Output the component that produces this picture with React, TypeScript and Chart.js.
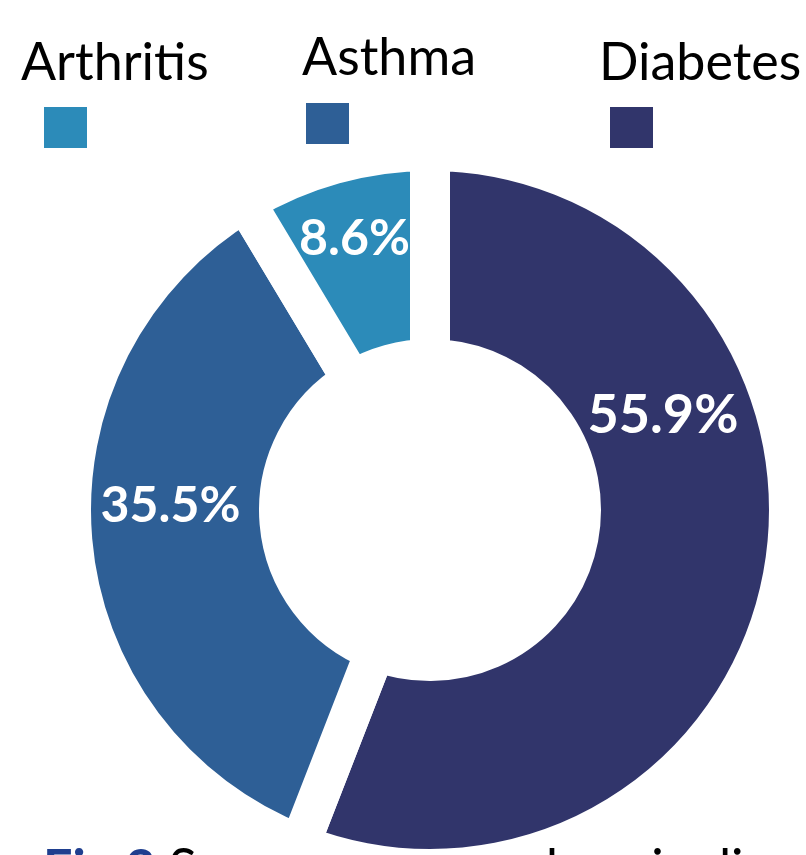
import React, { useEffect, useRef } from "react";
import { Chart, registerables } from "chart.js";

Chart.register(...registerables);

// ---- data ----
const categories = ["Diabetes", "Asthma", "Arthritis"];
const percentages = [55.9, 35.5, 8.6];
const sliceColors = ["#31356B", "#2E5F96", "#2C8BB9"];
const valueLabels = percentages.map((v) => v.toFixed(1) + "%");
const legendOrder = ["Arthritis", "Asthma", "Diabetes"];
const captionLead = "Fig.2";
const captionText = " Some common chronic diseases among respondents";

// ---- styling / layout (not data) ----
const FONT = "Lato, 'Open Sans', sans-serif";
const LABEL_ANGLE_FRAC = [0.336, 0.548, 0.5];
const LABEL_RADIUS_FRAC = [0.485, 0.522, 0.635];
const LABEL_FONT_PX = [54, 50, 50];
const LEGEND_TEXT_POS = [
  { left: 21, top: 34 },
  { left: 302, top: 29 },
  { left: 599, top: 34 },
];
const LEGEND_BOX_POS = [
  { left: 44, top: 107 },
  { left: 306, top: 103 },
  { left: 610, top: 107 },
];
const CANVAS_SIZE = 758;
const CANVAS_LEFT = 51;
const CANVAS_TOP = 131;
const GAP = 40;

const sliceLabelPlugin = {
  id: "sliceLabels",
  afterDatasetsDraw(chart: any) {
    const meta = chart.getDatasetMeta(0);
    const ctx = chart.ctx as CanvasRenderingContext2D;
    ctx.save();
    ctx.fillStyle = "#ffffff";
    ctx.textAlign = "center";
    ctx.textBaseline = "alphabetic";
    meta.data.forEach((arc: any, i: number) => {
      const p = arc.getProps(
        ["x", "y", "startAngle", "endAngle", "innerRadius", "outerRadius"],
        true
      );
      const a = p.startAngle + (p.endAngle - p.startAngle) * LABEL_ANGLE_FRAC[i];
      const r = p.innerRadius + (p.outerRadius - p.innerRadius) * LABEL_RADIUS_FRAC[i];
      const size = LABEL_FONT_PX[i];
      ctx.font = `bold ${size}px ${FONT}`;
      const cx = p.x + Math.cos(a) * r;
      const cy = p.y + Math.sin(a) * r;
      ctx.fillText(valueLabels[i], cx, cy + size * 0.358);
    });
    ctx.restore();
  },
};

export default function App() {
  const canvasRef = useRef<HTMLCanvasElement | null>(null);

  useEffect(() => {
    if (!canvasRef.current) return;
    const chart = new Chart(canvasRef.current, {
      type: "doughnut",
      data: {
        labels: categories,
        datasets: [
          {
            data: percentages,
            backgroundColor: sliceColors,
            borderColor: "#ffffff",
            borderWidth: GAP,
            hoverBorderWidth: GAP,
            offset: 0,
            hoverOffset: 0,
          },
        ],
      },
      options: {
        responsive: false,
        animation: false,
        cutout: "42.06%",
        rotation: 0,
        layout: { padding: 0 },
        events: [],
        plugins: {
          legend: { display: false },
          tooltip: { enabled: false },
        },
      },
      plugins: [sliceLabelPlugin],
    });
    return () => chart.destroy();
  }, []);

  return (
    <div
      style={{
        position: "absolute",
        left: 0,
        top: 0,
        width: 806,
        height: 855,
        overflow: "hidden",
        background: "#ffffff",
        fontFamily: FONT,
      }}
    >
      <canvas
        ref={canvasRef}
        width={CANVAS_SIZE}
        height={CANVAS_SIZE}
        style={{
          position: "absolute",
          left: CANVAS_LEFT,
          top: CANVAS_TOP,
          width: CANVAS_SIZE,
          height: CANVAS_SIZE,
        }}
      />
      {legendOrder.map((name, i) => {
        const color = sliceColors[categories.indexOf(name)];
        return (
          <React.Fragment key={name}>
            <div
              style={{
                position: "absolute",
                left: LEGEND_TEXT_POS[i].left,
                top: LEGEND_TEXT_POS[i].top,
                fontSize: 52,
                lineHeight: "52px",
                color: "#000000",
                whiteSpace: "nowrap",
                zIndex: 2,
              }}
            >
              {name}
            </div>
            <div
              style={{
                position: "absolute",
                left: LEGEND_BOX_POS[i].left,
                top: LEGEND_BOX_POS[i].top,
                width: 43,
                height: 41,
                background: color,
                zIndex: 2,
              }}
            />
          </React.Fragment>
        );
      })}
      <div
        style={{
          position: "absolute",
          left: 43,
          top: 840,
          fontSize: 52,
          lineHeight: "52px",
          whiteSpace: "nowrap",
          color: "#000000",
          zIndex: 2,
        }}
      >
        <span style={{ color: "#1F3F8F", fontWeight: 700 }}>{captionLead}</span>
        {captionText}
      </div>
    </div>
  );
}
